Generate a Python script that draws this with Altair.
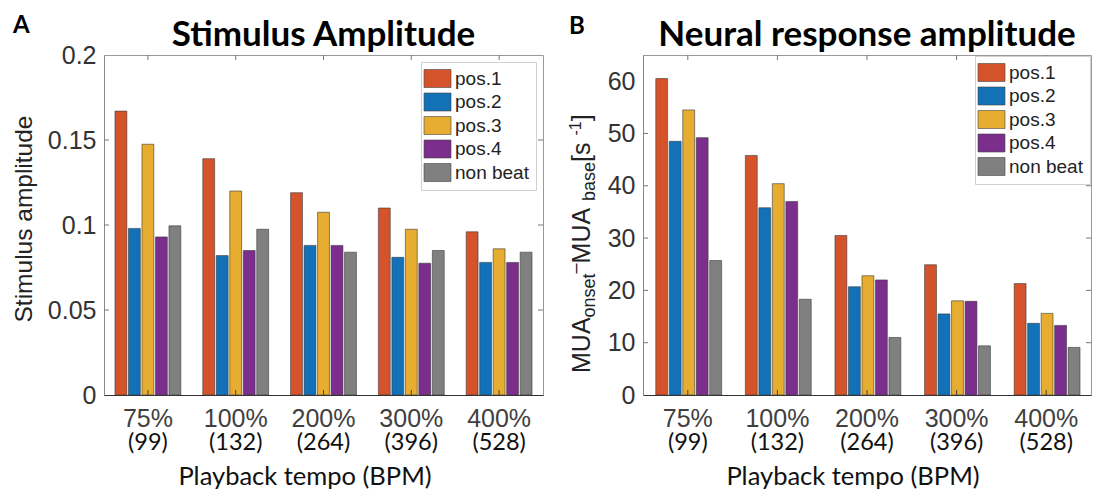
import altair as alt
import pandas as pd

# ---------------- data ----------------
tempos = ["75%", "100%", "200%", "300%", "400%"]
bpm = ["(99)", "(132)", "(264)", "(396)", "(528)"]
positions = ["pos.1", "pos.2", "pos.3", "pos.4", "non beat"]
colors = ["#D5532A", "#1271B7", "#E6AD31", "#7B2E8B", "#808080"]

stim_pos1 = [0.167, 0.139, 0.119, 0.110, 0.096]
stim_pos2 = [0.098, 0.082, 0.088, 0.081, 0.078]
stim_pos3 = [0.1475, 0.120, 0.1075, 0.0975, 0.086]
stim_pos4 = [0.093, 0.085, 0.088, 0.0775, 0.078]
stim_nonbeat = [0.0995, 0.0975, 0.084, 0.085, 0.084]

neur_pos1 = [60.5, 45.8, 30.5, 24.9, 21.3]
neur_pos2 = [48.5, 35.8, 20.7, 15.5, 13.7]
neur_pos3 = [54.5, 40.4, 22.8, 18.0, 15.6]
neur_pos4 = [49.2, 37.0, 22.0, 17.9, 13.3]
neur_nonbeat = [25.7, 18.3, 11.0, 9.4, 9.1]

stim_ticks = [0, 0.05, 0.1, 0.15, 0.2]
neur_ticks = [0, 10, 20, 30, 40, 50, 60]

AX_FONT = "Liberation Sans"
TXT_FONT = "Lato"
H = 340


def long_frame(series):
    rows = []
    for name, vals in zip(positions, series):
        for t, v in zip(tempos, vals):
            rows.append({"tempo": t, "position": name, "value": v})
    return pd.DataFrame(rows)


def xcat():
    return alt.X("tempo:N", sort=tempos, title=None)


def text_layer(text, x, y, **kw):
    return alt.Chart(pd.DataFrame({"t": [text]})).mark_text(**kw).encode(
        x=alt.value(x), y=alt.value(y), text="t:N"
    )


def panel(df, ticks, ymax, yfmt, width, pad_inner, title, letter, letter_x, letter_y,
          xtitle_x, legend_offset, extra):
    legend = alt.Legend(
        title=None, orient="top-right", offset=legend_offset,
        symbolType="M-1.5,-1H1.5V1H-1.5Z", symbolSize=324,
        symbolStrokeColor="#444", symbolStrokeWidth=0.6, symbolOpacity=1,
        labelFont=AX_FONT, labelFontSize=19, labelColor="#222", labelOffset=8,
        padding=7, rowPadding=2.5, fillColor="white", strokeColor="#d0d0d0",
    )
    bars = alt.Chart(df).mark_bar(stroke="#3a3a3a", strokeWidth=0.6, opacity=1).encode(
        x=alt.X(
            "tempo:N", sort=tempos, title=None,
            scale=alt.Scale(paddingInner=pad_inner, paddingOuter=pad_inner / 2),
            axis=alt.Axis(labelFont=AX_FONT, labelFontSize=25, labelColor="#404040",
                          labelPadding=11, labelAngle=0, labelBaseline="top",
                          ticks=False, domainColor="#333", domainWidth=1),
        ),
        xOffset=alt.XOffset("position:N", sort=positions,
                            scale=alt.Scale(paddingInner=0.12, paddingOuter=0)),
        y=alt.Y(
            "value:Q", title=None,
            scale=alt.Scale(domain=[0, ymax], nice=False),
            axis=alt.Axis(values=ticks, format=yfmt, labelFont=AX_FONT, labelFontSize=25,
                          labelColor="#333", labelPadding=8, ticks=False,
                          domainColor="#8a8a8a", grid=False),
        ),
        color=alt.Color("position:N", sort=positions,
                        scale=alt.Scale(domain=positions, range=colors), legend=legend),
    )

    cats = pd.DataFrame({"tempo": tempos, "bpm": bpm})
    top_ticks = alt.Chart(cats).mark_rule(color="#777", strokeWidth=1).encode(
        x=xcat(), y=alt.value(0), y2=alt.value(5))
    bot_ticks = alt.Chart(cats).mark_rule(color="#444", strokeWidth=1).encode(
        x=xcat(), y=alt.value(H - 5), y2=alt.value(H))
    inner = pd.DataFrame({"tick": ticks[1:-1]})
    left_ticks = alt.Chart(inner).mark_rule(color="#777", strokeWidth=1).encode(
        y=alt.Y("tick:Q", title=None), x=alt.value(0), x2=alt.value(5))
    right_ticks = alt.Chart(inner).mark_rule(color="#777", strokeWidth=1).encode(
        y=alt.Y("tick:Q", title=None), x=alt.value(width - 5), x2=alt.value(width))
    bpm_text = alt.Chart(cats).mark_text(
        font=TXT_FONT, fontSize=23.5, color="#111", align="center", baseline="alphabetic"
    ).encode(x=xcat(), y=alt.value(394.5), text="bpm:N")

    title_t = text_layer(title, width / 2, -9, font=TXT_FONT, fontSize=35, fontWeight="bold",
                         color="#000", align="center", baseline="alphabetic")
    letter_t = text_layer(letter, letter_x, letter_y, font=TXT_FONT, fontSize=24,
                          fontWeight="bold", color="#000", align="left", baseline="alphabetic")
    xtitle_t = text_layer("Playback tempo (BPM)", xtitle_x, 430, font=TXT_FONT, fontSize=25.5,
                          color="#111", align="center", baseline="alphabetic")

    return alt.layer(bars, top_ticks, bot_ticks, left_ticks, right_ticks, bpm_text,
                     title_t, letter_t, xtitle_t, *extra).properties(width=width, height=H)


# y-axis title of the left panel
left_extra = [
    text_layer("Stimulus amplitude", -72, 164, font=AX_FONT, fontSize=24.5, color="#222",
               angle=270, align="center", baseline="alphabetic")
]

# y-axis title of the right panel, built from pieces for sub/superscripts
ADV = {"M": .833, "U": .722, "A": .667, "o": .556, "n": .556, "s": .5, "e": .556,
       "t": .278, "b": .556, "a": .556, " ": .278, "[": .278, "]": .278, "-": .333,
       "1": .556, "\u2013": .556}
pieces = [("MUA", 25, 0), ("onset", 18, 5), ("\u2013", 18, -9), (" MUA", 25, 0),
          ("base", 18, 5), (" [s", 25, 0), ("-1", 16, -9), ("]", 25, 0)]
right_extra = []
pos_y = 318.0
for txt, size, shift in pieces:
    right_extra.append(
        text_layer(txt, -53 + shift, pos_y, font=AX_FONT, fontSize=size, color="#222",
                   angle=270, align="left", baseline="alphabetic"))
    pos_y -= sum(ADV[c] for c in txt) * size

left = panel(long_frame([stim_pos1, stim_pos2, stim_pos3, stim_pos4, stim_nonbeat]),
             stim_ticks, 0.2, ".2~f", 439, 0.25, "Stimulus Amplitude", "A", -91, -22,
             201, 7, left_extra)
right = panel(long_frame([neur_pos1, neur_pos2, neur_pos3, neur_pos4, neur_nonbeat]),
              neur_ticks, 65, "d", 448, 0.285, "Neural response amplitude", "B", -74, -21,
              210, 1, right_extra)

chart = alt.hconcat(left, right, spacing=100, bounds="flush").resolve_scale(
    color="independent"
).resolve_legend(color="independent").properties(
    padding={"left": 11, "top": 13, "right": 0, "bottom": 0},
    background="white",
).configure_view(stroke="#9a9a9a", strokeWidth=1).configure_axis(grid=False)

chart.save("out.html", embed_options={"renderer": "svg", "actions": False})
